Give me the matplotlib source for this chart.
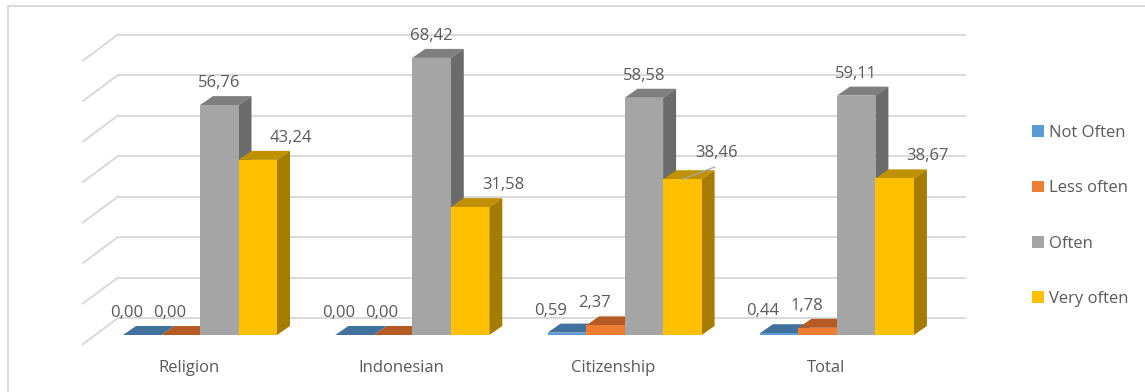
import matplotlib
matplotlib.use("Agg")
import matplotlib.pyplot as plt
from matplotlib.patches import Polygon, Patch
from matplotlib.lines import Line2D

# ---------------- data ----------------
categories = ["Religion", "Indonesian", "Citizenship", "Total"]
series_names = ["Not Often", "Less often", "Often", "Very often"]
not_often = [0.00, 0.00, 0.59, 0.44]
less_often = [0.00, 0.00, 2.37, 1.78]
often = [56.76, 68.42, 58.58, 59.11]
very_often = [43.24, 31.58, 38.46, 38.67]
grid_values = [0, 10, 20, 30, 40, 50, 60, 70]

series_values = [not_often, less_often, often, very_often]
front_colors = ["#5B9BD5", "#ED7D31", "#A5A5A5", "#FFC000"]
top_colors = ["#41719C", "#B45A22", "#7F7F7F", "#BF9000"]
side_colors = ["#35628A", "#9E4E1C", "#6B6B6B", "#A67C00"]
text_color = "#595959"
grid_color = "#D9D9D9"
FONT = "Open Sans"
FS = 12

# ---------------- layout (pixel scale) ----------------
W, H = 1145, 392
fig = plt.figure(figsize=(W / 100, H / 100), dpi=100)
ax = fig.add_axes([0, 0, 1, 1])
px_cat = 212.3      # pixels per category
px_val = 4.05       # pixels per value unit
x0_px, y0_px = 200, 335
ax.set_xlim(-x0_px / px_cat, (W - x0_px) / px_cat)
ax.set_ylim(-(H - y0_px) / px_val, y0_px / px_val)
ax.axis("off")


def dxp(p):
    return p / px_cat


def dyp(p):
    return p / px_val


bw = dxp(38.5)               # bar width
ddx, ddy = dxp(13), dyp(9)   # bar depth offset

# ---------------- walls / gridlines ----------------
wall_left, wall_right = dxp(118 - x0_px), dxp(966 - x0_px)
back_dy = dyp(17)
side_dx, side_dy = dxp(-35), dyp(-26)
for g in grid_values:
    yb = g + back_dy
    ax.plot([wall_left, wall_right], [yb, yb], color=grid_color, lw=1.4,
            solid_capstyle="butt", zorder=1)
    ax.plot([wall_left + side_dx, wall_left], [yb + side_dy, yb],
            color=grid_color, lw=1.4, zorder=1)

# ---------------- bars ----------------
z = 2
for i in range(len(categories)):
    for j, vals in enumerate(series_values):
        v = vals[i]
        left = i + (j - 2) * bw
        right = left + bw
        # top face
        ax.add_patch(Polygon([(left, v), (right, v), (right + ddx, v + ddy),
                              (left + ddx, v + ddy)], closed=True,
                             facecolor=top_colors[j], edgecolor="none", zorder=z))
        # side face
        ax.add_patch(Polygon([(right, 0), (right + ddx, ddy), (right + ddx, v + ddy),
                              (right, v)], closed=True,
                             facecolor=side_colors[j], edgecolor="none", zorder=z))
        # front face
        ax.bar(left, v, width=bw, align="edge", color=front_colors[j],
               edgecolor="none", zorder=z + 0.5)
        z += 1

# ---------------- data labels ----------------
label_dx = [-16, -11, 0, 33]
label_dy = 22
overrides = {(2, 3): (34, 26)}
for i in range(len(categories)):
    for j, vals in enumerate(series_values):
        v = vals[i]
        cx = i + (j - 2) * bw + bw / 2
        ox, oy = overrides.get((i, j), (label_dx[j], label_dy))
        tx, ty = cx + dxp(ox), v + dyp(oy)
        ax.text(tx, ty, f"{v:.2f}".replace(".", ","), ha="center", va="center",
                fontsize=FS, color=text_color, family=FONT, zorder=100)
        if (i, j) == (2, 3):
            ax.plot([cx, tx - dxp(2)], [v, ty - dyp(14)], color="#A6A6A6",
                    lw=1, zorder=100)

# ---------------- category labels ----------------
for i, c in enumerate(categories):
    ax.text(i - dxp(11), dyp(-33.5), c, ha="center", va="center",
            fontsize=FS, color=text_color, family=FONT)

# ---------------- legend ----------------
handles = [Patch(facecolor=c, edgecolor="none") for c in front_colors]
leg = fig.legend(handles, series_names, loc="upper left",
                 bbox_to_anchor=(1032 / W, 1 - 125 / H), frameon=False,
                 prop={"family": FONT, "size": FS}, handlelength=0.7,
                 handleheight=0.7, handletextpad=0.3, labelspacing=2.36,
                 borderpad=0, borderaxespad=0)
for t in leg.get_texts():
    t.set_color(text_color)

# ---------------- chart border ----------------
fig.add_artist(Line2D([8 / W, 8 / W], [0, 1 - 6 / H], transform=fig.transFigure,
                      color=grid_color, lw=1.4))
fig.add_artist(Line2D([8 / W, 1144 / W], [1 - 6 / H, 1 - 6 / H],
                      transform=fig.transFigure, color=grid_color, lw=1.4))

fig.savefig("out.png", dpi=100)
